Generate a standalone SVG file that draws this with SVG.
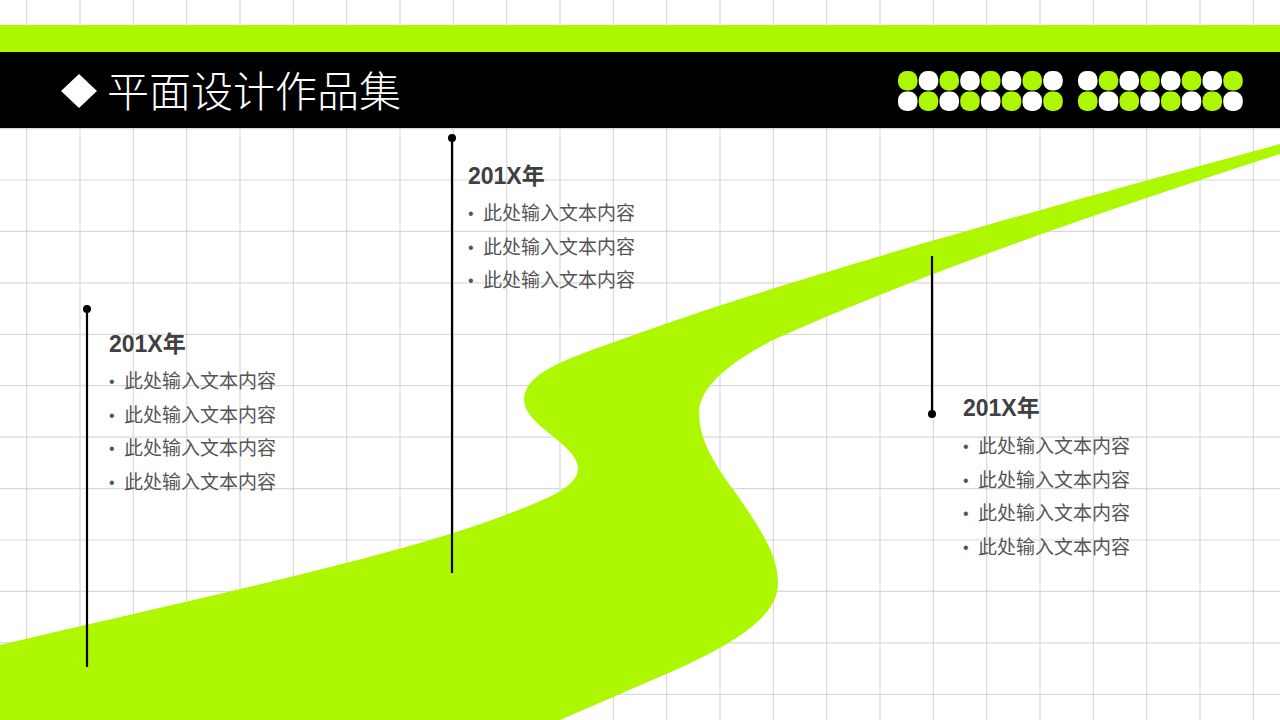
<svg xmlns="http://www.w3.org/2000/svg" width="1280" height="720" viewBox="0 0 1280 720">
<style>
.grid{stroke:#d9d9d9;stroke-width:1.2;fill:none}
.g{fill:#adf700}
.w{fill:#ffffff}
.vline{stroke:#000;stroke-width:2.2}
.dot{fill:#000}
.yr{font-family:"Liberation Sans","Noto Sans CJK SC",sans-serif;font-weight:bold;font-size:23px;fill:#404040}
.it{font-family:"Noto Sans CJK SC",sans-serif;font-size:19px;fill:#555555}
.bl{font-family:"Liberation Sans",sans-serif;font-size:16px;fill:#555555}
</style>
<rect width="1280" height="720" fill="#ffffff"/>
<path class="grid" d="M26.67,0V720M80,0V720M133.33,0V720M186.67,0V720M240,0V720M293.33,0V720M346.67,0V720M400,0V720M453.33,0V720M506.67,0V720M560,0V720M613.33,0V720M666.67,0V720M720,0V720M773.33,0V720M826.67,0V720M880,0V720M933.33,0V720M986.67,0V720M1040,0V720M1093.33,0V720M1146.67,0V720M1200,0V720M1253.33,0V720M0,25.71H1280M0,77.14H1280M0,128.57H1280M0,180H1280M0,231.43H1280M0,282.86H1280M0,334.29H1280M0,385.71H1280M0,437.14H1280M0,488.57H1280M0,540H1280M0,591.43H1280M0,642.86H1280M0,694.29H1280"/>
<path id="road" class="g" d="M0,645 C200,598 400,555 500,517 C545,500 578,488 578,468 C578,445 524,425 524,400 C524,372 570,358 620,340 C760,288 1000,220 1280,144 L1280,154 C1100,212 920,274 773,340 C735,360 699,385 699,413 C699,440 715,465 735,492 C760,528 778,555 778,583 C778,615 740,640 680,668 L560,720 L0,720 Z"/>
<g id="header">
<rect x="0" y="25" width="1280" height="27" class="g"/>
<rect x="0" y="52" width="1280" height="76" fill="#000"/>
<polygon points="79,74 97,91 79,108 61,91" fill="#fff"/>
<text x="107" y="107" font-family="'Noto Sans CJK SC',sans-serif" font-weight="300" font-size="42" fill="#fff">平面设计作品集</text>
</g>
<g id="dots">
<rect x="898" y="71" width="19.5" height="19.5" rx="8.5" class="g"/>
<rect x="918.75" y="71" width="19.5" height="19.5" rx="8.5" class="w"/>
<rect x="939.5" y="71" width="19.5" height="19.5" rx="8.5" class="g"/>
<rect x="960.25" y="71" width="19.5" height="19.5" rx="8.5" class="w"/>
<rect x="981" y="71" width="19.5" height="19.5" rx="8.5" class="g"/>
<rect x="1001.75" y="71" width="19.5" height="19.5" rx="8.5" class="w"/>
<rect x="1022.5" y="71" width="19.5" height="19.5" rx="8.5" class="g"/>
<rect x="1043.25" y="71" width="19.5" height="19.5" rx="8.5" class="w"/>
<rect x="898" y="91.5" width="19.5" height="19.5" rx="8.5" class="w"/>
<rect x="918.75" y="91.5" width="19.5" height="19.5" rx="8.5" class="g"/>
<rect x="939.5" y="91.5" width="19.5" height="19.5" rx="8.5" class="w"/>
<rect x="960.25" y="91.5" width="19.5" height="19.5" rx="8.5" class="g"/>
<rect x="981" y="91.5" width="19.5" height="19.5" rx="8.5" class="w"/>
<rect x="1001.75" y="91.5" width="19.5" height="19.5" rx="8.5" class="g"/>
<rect x="1022.5" y="91.5" width="19.5" height="19.5" rx="8.5" class="w"/>
<rect x="1043.25" y="91.5" width="19.5" height="19.5" rx="8.5" class="g"/>
<rect x="1078" y="71" width="19.5" height="19.5" rx="8.5" class="w"/>
<rect x="1098.75" y="71" width="19.5" height="19.5" rx="8.5" class="g"/>
<rect x="1119.5" y="71" width="19.5" height="19.5" rx="8.5" class="w"/>
<rect x="1140.25" y="71" width="19.5" height="19.5" rx="8.5" class="g"/>
<rect x="1161" y="71" width="19.5" height="19.5" rx="8.5" class="w"/>
<rect x="1181.75" y="71" width="19.5" height="19.5" rx="8.5" class="g"/>
<rect x="1202.5" y="71" width="19.5" height="19.5" rx="8.5" class="w"/>
<rect x="1223.25" y="71" width="19.5" height="19.5" rx="8.5" class="g"/>
<rect x="1078" y="91.5" width="19.5" height="19.5" rx="8.5" class="g"/>
<rect x="1098.75" y="91.5" width="19.5" height="19.5" rx="8.5" class="w"/>
<rect x="1119.5" y="91.5" width="19.5" height="19.5" rx="8.5" class="g"/>
<rect x="1140.25" y="91.5" width="19.5" height="19.5" rx="8.5" class="w"/>
<rect x="1161" y="91.5" width="19.5" height="19.5" rx="8.5" class="g"/>
<rect x="1181.75" y="91.5" width="19.5" height="19.5" rx="8.5" class="w"/>
<rect x="1202.5" y="91.5" width="19.5" height="19.5" rx="8.5" class="g"/>
<rect x="1223.25" y="91.5" width="19.5" height="19.5" rx="8.5" class="w"/>
</g>
<g id="connectors">
<line class="vline" x1="87" y1="309" x2="87" y2="667"/>
<circle class="dot" cx="87" cy="309" r="4"/>
<line class="vline" x1="452" y1="138" x2="452" y2="573"/>
<circle class="dot" cx="452" cy="138" r="4"/>
<line class="vline" x1="932" y1="256" x2="932" y2="414"/>
<circle class="dot" cx="932" cy="414" r="4"/>
</g>
<g id="node1">
<text class="yr" x="109" y="352">201X年</text>
<text class="bl" x="109" y="387">•</text><text class="it" x="124" y="388">此处输入文本内容</text>
<text class="bl" x="109" y="420.5">•</text><text class="it" x="124" y="421.5">此处输入文本内容</text>
<text class="bl" x="109" y="454">•</text><text class="it" x="124" y="455">此处输入文本内容</text>
<text class="bl" x="109" y="487.5">•</text><text class="it" x="124" y="488.5">此处输入文本内容</text>
</g>
<g id="node2">
<text class="yr" x="468" y="184">201X年</text>
<text class="bl" x="468" y="219">•</text><text class="it" x="483" y="220">此处输入文本内容</text>
<text class="bl" x="468" y="252.5">•</text><text class="it" x="483" y="253.5">此处输入文本内容</text>
<text class="bl" x="468" y="286">•</text><text class="it" x="483" y="287">此处输入文本内容</text>
</g>
<g id="node3">
<text class="yr" x="963" y="416">201X年</text>
<text class="bl" x="963" y="452">•</text><text class="it" x="978" y="453">此处输入文本内容</text>
<text class="bl" x="963" y="485.5">•</text><text class="it" x="978" y="486.5">此处输入文本内容</text>
<text class="bl" x="963" y="519">•</text><text class="it" x="978" y="520">此处输入文本内容</text>
<text class="bl" x="963" y="552.5">•</text><text class="it" x="978" y="553.5">此处输入文本内容</text>
</g>
</svg>
